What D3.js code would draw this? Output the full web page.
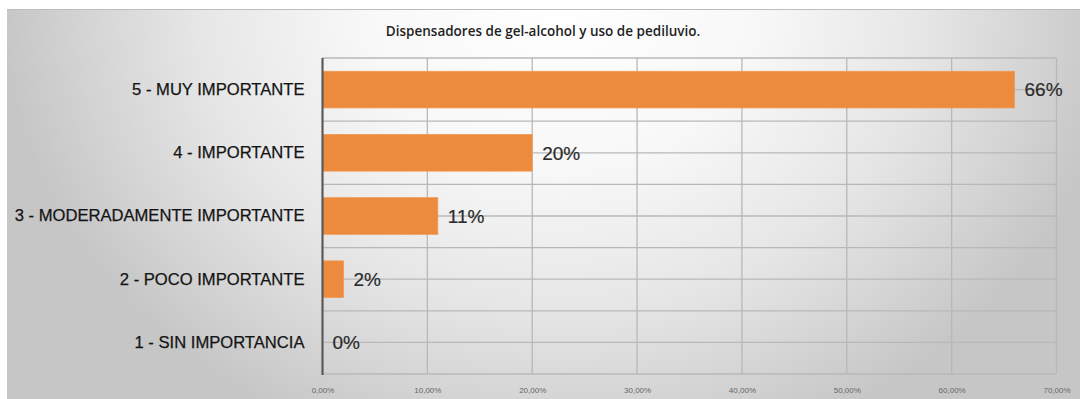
<!DOCTYPE html>
<html>
<head>
<meta charset="utf-8">
<script src="https://cdn.jsdelivr.net/npm/d3@7"></script>
<style>
  html, body { margin: 0; padding: 0; background: #ffffff; }
  svg { display: block; }
</style>
</head>
<body>
<svg id="chart" width="1080" height="399"></svg>
<script>
// Chart data
const chartTitle = "Dispensadores de gel-alcohol y uso de pediluvio.";
const categories = [
  "5 - MUY IMPORTANTE",
  "4 - IMPORTANTE",
  "3 - MODERADAMENTE IMPORTANTE",
  "2 - POCO IMPORTANTE",
  "1 - SIN IMPORTANCIA"
];
const values = [66, 20, 11, 2, 0];
const valueLabels = ["66%", "20%", "11%", "2%", "0%"];
const xTicks = [0, 10, 20, 30, 40, 50, 60, 70];
const xTickLabels = ["0,00%", "10,00%", "20,00%", "30,00%", "40,00%", "50,00%", "60,00%", "70,00%"];

const W = 1080, H = 399;
const plot = { left: 322.5, right: 1056.5, top: 58, bottom: 374 };

const svg = d3.select("#chart");
const defs = svg.append("defs");

// Soft grey panel background, lighter towards the top centre
const grad = defs.append("radialGradient")
  .attr("id", "panelGrad")
  .attr("gradientUnits", "userSpaceOnUse")
  .attr("cx", 560).attr("cy", 0).attr("r", 560)
  .attr("gradientTransform", "translate(560,0) scale(1,0.85) translate(-560,0)");
[
  [0, "#ffffff"],
  [0.35, "#f8f8f8"],
  [0.65, "#e6e6e6"],
  [0.85, "#d4d4d4"],
  [1, "#c6c6c6"]
].forEach(([o, c]) => grad.append("stop").attr("offset", o).attr("stop-color", c));

svg.append("rect")
  .attr("x", 7).attr("y", 9).attr("width", W - 7).attr("height", H - 9)
  .attr("fill", "url(#panelGrad)");
svg.append("line")
  .attr("x1", 7).attr("x2", W).attr("y1", 9.5).attr("y2", 9.5)
  .attr("stroke", "#bdbdbd").attr("stroke-width", 1);

// Scales
const x = d3.scaleLinear().domain([0, 70]).range([plot.left, plot.right]);
const y = d3.scaleBand().domain(categories).range([plot.top, plot.bottom])
  .paddingInner(0.42).paddingOuter(0.21);
const yBand = d3.scaleBand().domain(categories).range([plot.top, plot.bottom]);

const grid = svg.append("g").attr("stroke", "#b8b8b8").attr("stroke-width", 1.3);

// Horizontal grid: band edges and band centres
const hLines = [];
categories.forEach(c => {
  hLines.push(yBand(c));
  hLines.push(yBand(c) + yBand.bandwidth() / 2);
});
hLines.push(plot.bottom);
grid.selectAll("line.h").data(hLines).join("line")
  .attr("class", "h")
  .attr("x1", plot.left).attr("x2", plot.right)
  .attr("y1", d => d).attr("y2", d => d);

// Vertical grid
grid.selectAll("line.v").data(xTicks.slice(1)).join("line")
  .attr("class", "v")
  .attr("x1", d => x(d)).attr("x2", d => x(d))
  .attr("y1", plot.top).attr("y2", plot.bottom);

// Bars
svg.append("g").selectAll("rect").data(categories).join("rect")
  .attr("x", x(0))
  .attr("y", d => y(d))
  .attr("width", (d, i) => x(values[i]) - x(0))
  .attr("height", y.bandwidth())
  .attr("fill", "#ec8a3d")
  .attr("stroke", "#f09a55").attr("stroke-width", 0.8);

// Category axis line
svg.append("line")
  .attr("x1", x(0)).attr("x2", x(0))
  .attr("y1", plot.top).attr("y2", plot.bottom + 1)
  .attr("stroke", "#5a5a5a").attr("stroke-width", 2.2);

// Value axis (ticks hidden, labels only)
const xAxis = d3.axisBottom(x)
  .tickValues(xTicks)
  .tickFormat((d, i) => xTickLabels[i])
  .tickSize(0).tickPadding(0);
const gx = svg.append("g")
  .attr("transform", `translate(0,${plot.bottom + 13})`)
  .call(xAxis);
gx.select(".domain").remove();
gx.selectAll("text")
  .attr("font-family", "'Liberation Sans', Arial, sans-serif")
  .attr("font-size", 8)
  .attr("fill", "#666666");

// Category axis labels
const yAxis = d3.axisLeft(yBand).tickSize(0).tickPadding(18);
const gy = svg.append("g")
  .attr("transform", `translate(${x(0)},0)`)
  .call(yAxis);
gy.select(".domain").remove();
gy.selectAll("text")
  .attr("font-family", "'Liberation Sans', Arial, sans-serif")
  .attr("font-size", 16.6)
  .attr("fill", "#141414")
  .attr("stroke", "#141414").attr("stroke-width", 0.25);

// Value labels next to each bar
const labelGroup = svg.append("g");
labelGroup.selectAll("text").data(categories).join("text")
  .attr("x", (d, i) => x(values[i]) + 10)
  .attr("y", d => y(d) + y.bandwidth() / 2)
  .attr("dy", "0.36em")
  .attr("font-family", "'Liberation Sans', Arial, sans-serif")
  .attr("font-size", 19)
  .attr("fill", "#2b2b2b")
  .attr("stroke", "#2b2b2b").attr("stroke-width", 0.2)
  .text((d, i) => valueLabels[i]);

// Title
svg.append("text")
  .attr("x", 543).attr("y", 36)
  .attr("text-anchor", "middle")
  .attr("font-family", "'Open Sans', sans-serif")
  .attr("font-size", 13.5)
  .attr("font-weight", 600)
  .attr("fill", "#1f1f1f")
  .text(chartTitle);
</script>
</body>
</html>
